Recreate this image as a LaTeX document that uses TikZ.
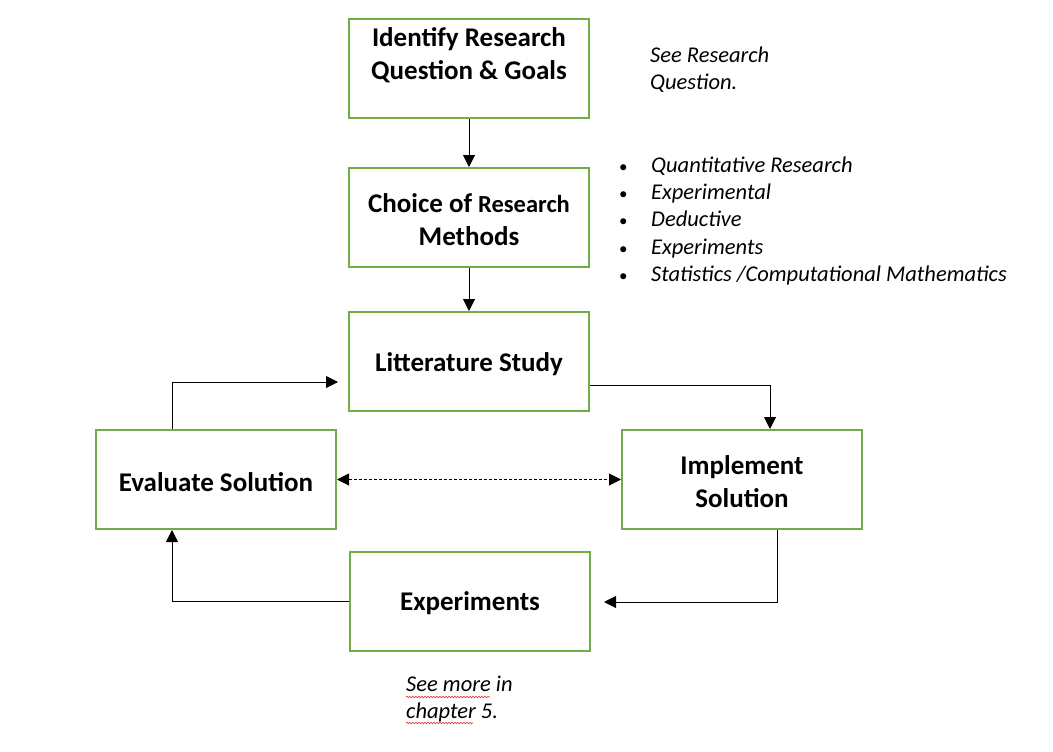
\documentclass[tikz,border=0pt]{standalone}
\usepackage{fontspec}
\setmainfont{Carlito}
\usetikzlibrary{arrows.meta,decorations.pathmorphing}
\definecolor{boxgreen}{HTML}{70AD47}
\definecolor{squig}{HTML}{E03030}
\begin{document}
\begin{tikzpicture}[x=1pt,y=-1pt,
  box/.style={draw=boxgreen, line width=2pt, minimum width=240pt, minimum height=99pt, inner sep=0pt, align=center, font=\fontsize{27}{33}\selectfont\bfseries},
  btxt/.style={font=\fontsize{27}{33}\selectfont\bfseries, align=center},
  itxt/.style={font=\fontsize{22.5}{27.3}\selectfont\itshape, align=left, anchor=west, inner sep=0pt},
  conn/.style={line width=1pt, -{Triangle[length=12pt,width=12pt]}},
  dconn/.style={line width=1pt, dash pattern=on 3pt off 2pt, {Triangle[length=12pt,width=12pt]}-{Triangle[length=12pt,width=12pt]}},
  wavy/.style={squig, line width=0.6pt, decorate, decoration={snake, amplitude=0.8pt, segment length=3pt}}
]
\useasboundingbox (0,0) rectangle (1053,752);
\fill[white] (0,0) rectangle (1053,752);

% boxes
\node[box] (idq) at (469,68.5) {};
\node[btxt] (idqt) at (469,55) {Identify Research\\Question \& Goals};
\node[box] (cho) at (469,217.5) {};
\node[btxt] (chot) at (469,219.5) {Choice of {\fontsize{24.5}{33}\selectfont Research}\\Methods};
\node[box] (lit) at (469,361.5) {};
\node[btxt] (litt) at (469,364.5) {Litterature Study};
\node[box] (eva) at (216,479.5) {};
\node[btxt] (evat) at (216,482) {Evaluate Solution};
\node[box] (imp) at (742,479.5) {};
\node[btxt] (impt) at (742,482) {Implement\\Solution};
\node[box] (exp) at (470,601.5) {};
\node[btxt] (expt) at (470,603.5) {Experiments};

% free ends
\coordinate (litin) at (338,382);
\coordinate (expin) at (604,602);

% connectors
\draw[conn] (idq) -- (cho);
\draw[conn] (cho) -- (lit);
\draw[conn] ([yshift=-23.5pt]lit.east) -| ([xshift=28pt]imp.north);
\draw[conn] ([xshift=-44pt]eva.north) |- (litin);
\draw[dconn] (eva.east) -- (imp.west);
\draw[conn] ([xshift=35pt]imp.south) |- (expin);
\draw[conn] (exp.west) -| ([xshift=-44pt]eva.south);

% side texts
\node[itxt] (see1) at (650,69.5) {See Research\\Question.};
\node[anchor=west, inner sep=0pt, font=\fontsize{22.5}{27.3}\selectfont] (bul) at (619,221.5) {%
  \begin{tabular}{@{}l@{}l@{}}
  \makebox[32pt][l]{\fontsize{17}{20}\selectfont\textbullet} & \textit{Quantitative Research}\\
  \makebox[32pt][l]{\fontsize{17}{20}\selectfont\textbullet} & \textit{Experimental}\\
  \makebox[32pt][l]{\fontsize{17}{20}\selectfont\textbullet} & \textit{Deductive}\\
  \makebox[32pt][l]{\fontsize{17}{20}\selectfont\textbullet} & \textit{Experiments}\\
  \makebox[32pt][l]{\fontsize{17}{20}\selectfont\textbullet} & \textit{Statistics /Computational Mathematics}
  \end{tabular}};
\node[itxt] (see2) at (406,699) {See more in\\chapter 5.};
\draw[wavy] (406,697) -- (490,697);
\draw[wavy] (406,723) -- (473,723);
\end{tikzpicture}
\end{document}
